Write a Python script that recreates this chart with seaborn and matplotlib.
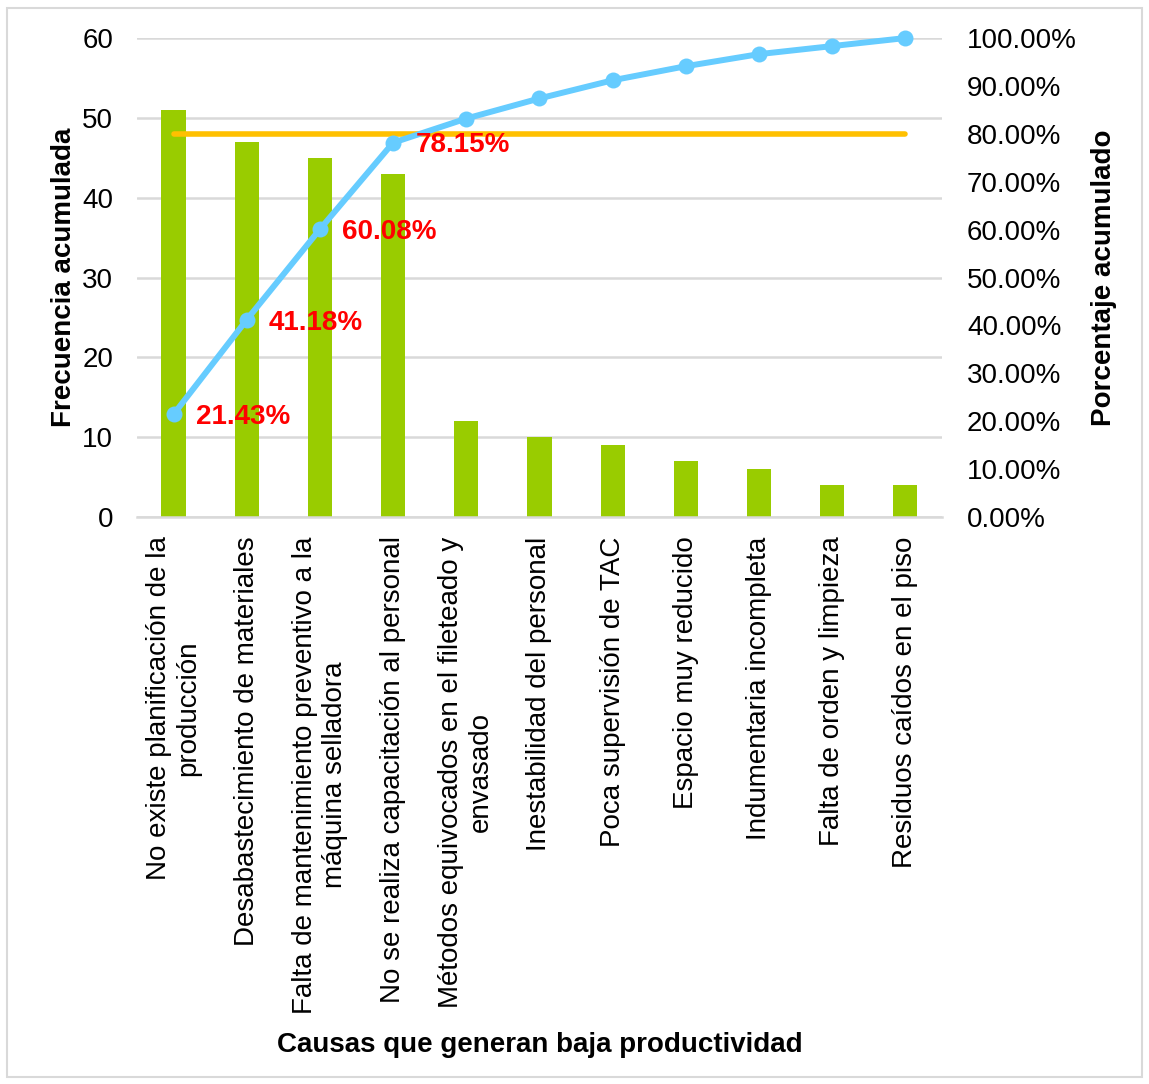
import numpy as np
import matplotlib
matplotlib.use("Agg")
import matplotlib.pyplot as plt
import seaborn as sns
from matplotlib.patches import Rectangle
from matplotlib.ticker import FuncFormatter

categories = [
    "No existe planificación de la\nproducción",
    "Desabastecimiento de materiales",
    "Falta de mantenimiento preventivo a la\nmáquina selladora",
    "No se realiza capacitación al personal",
    "Métodos equivocados en el fileteado y\nenvasado",
    "Inestabilidad del personal",
    "Poca supervisión de TAC",
    "Espacio muy reducido",
    "Indumentaria incompleta",
    "Falta de orden y limpieza",
    "Residuos caídos en el piso",
]
frecuencia = [51, 47, 45, 43, 12, 10, 9, 7, 6, 4, 4]
porcentaje = [21.43, 41.18, 60.08, 78.15, 83.19, 87.39, 91.18, 94.12, 96.64, 98.32, 100.0]
limite = 80.0
etiquetas = ["21.43%", "41.18%", "60.08%", "78.15%"]

sns.set_theme(style="white")
plt.rcParams['font.family'] = ['Liberation Sans', 'DejaVu Sans']
plt.rcParams['text.color'] = 'black'
plt.rcParams['axes.labelcolor'] = 'black'

FS = 20

fig = plt.figure(figsize=(11.49, 10.84), dpi=100)
ax = fig.add_axes([0.1192, 0.5231, 0.7006, 0.4418])

pos = np.arange(len(categories))
sns.barplot(x=pos, y=frecuencia, color="#99CC00", width=0.33, ax=ax,
            saturation=1, native_scale=True, linewidth=0)
ax.set_xlim(-0.5, len(categories) - 0.5)
ax.set_ylim(0, 60)
ax.set_yticks(range(0, 61, 10))
ax.yaxis.grid(True, color="#D9D9D9", lw=1.8)
ax.set_axisbelow(True)
for s in ["top", "right", "left"]:
    ax.spines[s].set_visible(False)
ax.spines["bottom"].set_color("#D9D9D9")
ax.spines["bottom"].set_linewidth(1.8)
ax.tick_params(axis="both", length=0, labelsize=FS, colors="black")
ax.tick_params(axis="y", pad=17)
ax.set_xticks(pos)
ax.set_xticklabels(categories, rotation=90, ha="center", va="top",
                   multialignment="center", fontsize=FS)
ax.tick_params(axis="x", pad=14)
ax.set_xlabel("Causas que generan baja productividad", fontsize=FS,
              fontweight="bold", labelpad=13)
ax.set_ylabel("Frecuencia acumulada", fontsize=FS, fontweight="bold", labelpad=4)

ax2 = ax.twinx()
ax2.plot([pos[0], pos[-1]], [limite, limite], color="#FFC000", lw=4,
         solid_capstyle="round")
sns.lineplot(x=pos, y=porcentaje, color="#66CCFF", lw=4.3, marker="o",
             markersize=11.5, markeredgewidth=0, ax=ax2, clip_on=False)
ax2.set_ylim(0, 100)
ax2.set_yticks(range(0, 101, 10))
ax2.yaxis.set_major_formatter(FuncFormatter(lambda v, p: f"{v:.2f}%"))
ax2.tick_params(axis="y", length=0, labelsize=FS, pad=18, colors="black")
for s in ax2.spines.values():
    s.set_visible(False)
ax2.set_ylabel("Porcentaje acumulado", fontsize=FS, fontweight="bold", labelpad=10)

for i, t in enumerate(etiquetas):
    ax2.annotate(t, (pos[i], porcentaje[i]), xytext=(16, -2),
                 textcoords="offset points", ha="left", va="center",
                 color="#FF0000", fontsize=FS, fontweight="bold")

fig.patches.append(Rectangle((0.006, 0.006), 0.988, 0.987, transform=fig.transFigure,
                             fill=False, edgecolor="#D9D9D9", lw=1.5))

fig.savefig("out.png", dpi=100)
